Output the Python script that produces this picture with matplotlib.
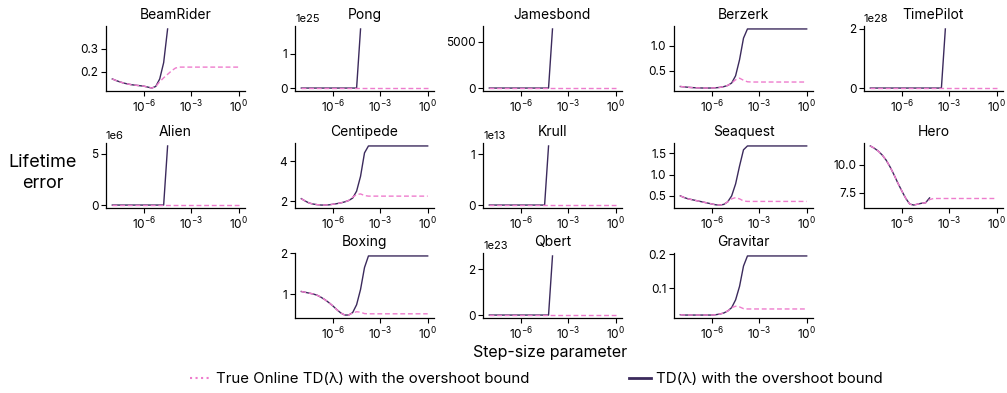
import numpy as np
import matplotlib
matplotlib.use("Agg")
import matplotlib.pyplot as plt
from matplotlib.lines import Line2D
from matplotlib.ticker import NullLocator

plt.rcParams['font.family'] = ['Inter', 'DejaVu Sans']
plt.rcParams['mathtext.fontset'] = 'custom'
plt.rcParams['mathtext.rm'] = 'Inter'
plt.rcParams['mathtext.it'] = 'Inter:italic'
plt.rcParams['mathtext.bf'] = 'Inter:bold'

# step-size grid (log10), shared by every game
log_step_size = [-8.0, -7.75, -7.5, -7.25, -7.0, -6.75, -6.5, -6.25, -6.0, -5.75, -5.5,
                 -5.25, -5.0, -4.75, -4.5, -4.25, -4.0, -3.75, -3.5, -3.25, -3.0, -2.75,
                 -2.5, -2.25, -2.0, -1.75, -1.5, -1.25, -1.0, -0.75, -0.5, -0.25, 0.0]
nan = np.nan

games = ['BeamRider', 'Pong', 'Jamesbond', 'Berzerk', 'TimePilot',
         'Alien', 'Centipede', 'Krull', 'Seaquest', 'Hero',
         'Boxing', 'Qbert', 'Gravitar']

# TD(lambda) with the overshoot bound (nan = run diverged / not shown)
td_beamrider = [0.170, 0.163, 0.157, 0.152, 0.148, 0.145, 0.143, 0.141, 0.139, 0.135, 0.131,
                0.138, 0.170, 0.240, 0.385, nan, nan, nan, nan, nan, nan, nan,
                nan, nan, nan, nan, nan, nan, nan, nan, nan, nan, nan]
td_pong = [0.2, 0.2, 0.2, 0.2, 0.2, 0.2, 0.2, 0.2, 0.2, 0.2, 0.2,
           0.2, 0.2, 0.2, 0.3, 1.72e25, nan, nan, nan, nan, nan, nan,
           nan, nan, nan, nan, nan, nan, nan, nan, nan, nan, nan]
td_jamesbond = [15, 15, 15, 15, 15, 15, 15, 15, 15, 15, 15,
                15, 15, 15, 16, 18, 6350, nan, nan, nan, nan, nan,
                nan, nan, nan, nan, nan, nan, nan, nan, nan, nan, nan]
td_berzerk = [0.186, 0.178, 0.170, 0.164, 0.160, 0.157, 0.155, 0.155, 0.156, 0.160, 0.168,
              0.183, 0.207, 0.255, 0.40, 0.72, 1.15, 1.333, 1.333, 1.333, 1.333, 1.333,
              1.333, 1.333, 1.333, 1.333, 1.333, 1.333, 1.333, 1.333, 1.333, 1.333, 1.333]
td_timepilot = [0.3, 0.3, 0.3, 0.3, 0.3, 0.3, 0.3, 0.3, 0.3, 0.3, 0.3,
                0.3, 0.3, 0.3, 0.3, 0.3, 0.3, 0.3, 0.4, 2.0e28, nan, nan,
                nan, nan, nan, nan, nan, nan, nan, nan, nan, nan, nan]
td_alien = [30, 30, 30, 30, 30, 30, 30, 30, 30, 30, 30,
            30, 30, 35, 5.74e6, nan, nan, nan, nan, nan, nan, nan,
            nan, nan, nan, nan, nan, nan, nan, nan, nan, nan, nan]
td_centipede = [2.12, 2.00, 1.90, 1.85, 1.82, 1.80, 1.80, 1.81, 1.84, 1.87, 1.91,
                1.96, 2.03, 2.15, 2.50, 3.25, 4.43, 4.78, 4.78, 4.78, 4.78, 4.78,
                4.78, 4.78, 4.78, 4.78, 4.78, 4.78, 4.78, 4.78, 4.78, 4.78, 4.78]
td_krull = [5, 5, 5, 5, 5, 5, 5, 5, 5, 5, 5,
            5, 5, 5, 6, 1.16e13, nan, nan, nan, nan, nan, nan,
            nan, nan, nan, nan, nan, nan, nan, nan, nan, nan, nan]
td_seaquest = [0.50, 0.46, 0.43, 0.41, 0.39, 0.37, 0.35, 0.33, 0.31, 0.29, 0.285,
               0.30, 0.36, 0.50, 0.78, 1.20, 1.58, 1.67, 1.67, 1.67, 1.67, 1.67,
               1.67, 1.67, 1.67, 1.67, 1.67, 1.67, 1.67, 1.67, 1.67, 1.67, 1.67]
td_hero = [11.65, 11.45, 11.2, 10.85, 10.4, 9.8, 9.1, 8.35, 7.65, 7.0, 6.5,
           6.42, 6.5, 6.58, 6.62, 7.05, nan, nan, nan, nan, nan, nan,
           nan, nan, nan, nan, nan, nan, nan, nan, nan, nan, nan]
td_boxing = [1.07, 1.05, 1.03, 1.01, 0.98, 0.93, 0.87, 0.80, 0.72, 0.63, 0.55,
             0.50, 0.50, 0.56, 0.75, 1.12, 1.65, 1.93, 1.93, 1.93, 1.93, 1.93,
             1.93, 1.93, 1.93, 1.93, 1.93, 1.93, 1.93, 1.93, 1.93, 1.93, 1.93]
td_qbert = [1, 1, 1, 1, 1, 1, 1, 1, 1, 1, 1,
            1, 1, 1, 1, 2, 2.58e23, nan, nan, nan, nan, nan,
            nan, nan, nan, nan, nan, nan, nan, nan, nan, nan, nan]
td_gravitar = [0.021, 0.020, 0.020, 0.020, 0.020, 0.020, 0.020, 0.020, 0.020, 0.021, 0.023,
               0.026, 0.032, 0.042, 0.065, 0.105, 0.165, 0.195, 0.195, 0.195, 0.195, 0.195,
               0.195, 0.195, 0.195, 0.195, 0.195, 0.195, 0.195, 0.195, 0.195, 0.195, 0.195]

# True Online TD(lambda) with the overshoot bound
toc_beamrider = [0.170, 0.163, 0.157, 0.152, 0.148, 0.145, 0.143, 0.141, 0.139, 0.135, 0.131,
                 0.138, 0.158, 0.175, 0.190, 0.205, 0.217, 0.221, 0.221, 0.221, 0.221, 0.221,
                 0.221, 0.221, 0.221, 0.221, 0.221, 0.221, 0.221, 0.221, 0.221, 0.221, 0.221]
toc_pong = [0.2, 0.2, 0.2, 0.2, 0.2, 0.2, 0.2, 0.2, 0.2, 0.2, 0.2,
            0.2, 0.2, 0.2, 0.2, 0.2, 0.2, 0.2, 0.2, 0.2, 0.2, 0.2,
            0.2, 0.2, 0.2, 0.2, 0.2, 0.2, 0.2, 0.2, 0.2, 0.2, 0.2]
toc_jamesbond = [15, 15, 15, 15, 15, 15, 15, 15, 15, 15, 15,
                 15, 15, 15, 15, 15, 15, 15, 15, 15, 15, 15,
                 15, 15, 15, 15, 15, 15, 15, 15, 15, 15, 15]
toc_berzerk = [0.186, 0.178, 0.170, 0.164, 0.160, 0.157, 0.155, 0.155, 0.156, 0.160, 0.168,
               0.183, 0.207, 0.255, 0.320, 0.352, 0.310, 0.280, 0.275, 0.275, 0.275, 0.275,
               0.275, 0.275, 0.275, 0.275, 0.275, 0.275, 0.275, 0.275, 0.275, 0.275, 0.275]
toc_timepilot = [0.3, 0.3, 0.3, 0.3, 0.3, 0.3, 0.3, 0.3, 0.3, 0.3, 0.3,
                 0.3, 0.3, 0.3, 0.3, 0.3, 0.3, 0.3, 0.3, 0.3, 0.3, 0.3,
                 0.3, 0.3, 0.3, 0.3, 0.3, 0.3, 0.3, 0.3, 0.3, 0.3, 0.3]
toc_alien = [30, 30, 30, 30, 30, 30, 30, 30, 30, 30, 30,
             30, 30, 30, 30, 30, 30, 30, 30, 30, 30, 30,
             30, 30, 30, 30, 30, 30, 30, 30, 30, 30, 30]
toc_centipede = [2.12, 2.00, 1.90, 1.85, 1.82, 1.80, 1.80, 1.81, 1.84, 1.87, 1.91,
                 1.96, 2.03, 2.20, 2.33, 2.36, 2.28, 2.25, 2.25, 2.25, 2.25, 2.25,
                 2.25, 2.25, 2.25, 2.25, 2.25, 2.25, 2.25, 2.25, 2.25, 2.25, 2.25]
toc_krull = [5, 5, 5, 5, 5, 5, 5, 5, 5, 5, 5,
             5, 5, 5, 5, 5, 5, 5, 5, 5, 5, 5,
             5, 5, 5, 5, 5, 5, 5, 5, 5, 5, 5]
toc_seaquest = [0.50, 0.46, 0.43, 0.41, 0.39, 0.37, 0.35, 0.33, 0.31, 0.29, 0.285,
                0.30, 0.36, 0.43, 0.46, 0.43, 0.38, 0.37, 0.37, 0.37, 0.37, 0.37,
                0.37, 0.37, 0.37, 0.37, 0.37, 0.37, 0.37, 0.37, 0.37, 0.37, 0.37]
toc_hero = [11.65, 11.45, 11.2, 10.85, 10.4, 9.8, 9.1, 8.35, 7.65, 7.0, 6.5,
            6.42, 6.5, 6.58, 6.62, 6.9, 7.0, 7.0, 7.0, 7.0, 7.0, 7.0,
            7.0, 7.0, 7.0, 7.0, 7.0, 7.0, 7.0, 7.0, 7.0, 7.0, 7.0]
toc_boxing = [1.07, 1.05, 1.03, 1.01, 0.98, 0.93, 0.87, 0.80, 0.72, 0.63, 0.55,
              0.50, 0.50, 0.55, 0.58, 0.57, 0.535, 0.53, 0.53, 0.53, 0.53, 0.53,
              0.53, 0.53, 0.53, 0.53, 0.53, 0.53, 0.53, 0.53, 0.53, 0.53, 0.53]
toc_qbert = [1, 1, 1, 1, 1, 1, 1, 1, 1, 1, 1,
             1, 1, 1, 1, 1, 1, 1, 1, 1, 1, 1,
             1, 1, 1, 1, 1, 1, 1, 1, 1, 1, 1]
toc_gravitar = [0.021, 0.020, 0.020, 0.020, 0.020, 0.020, 0.020, 0.020, 0.020, 0.021, 0.023,
                0.026, 0.032, 0.042, 0.046, 0.044, 0.039, 0.038, 0.038, 0.038, 0.038, 0.038,
                0.038, 0.038, 0.038, 0.038, 0.038, 0.038, 0.038, 0.038, 0.038, 0.038, 0.038]

y_ticks = {
    'BeamRider': [0.2, 0.3], 'Pong': [0, 1e25], 'Jamesbond': [0, 5000],
    'Berzerk': [0.5, 1.0], 'TimePilot': [0, 2e28], 'Alien': [0, 5e6],
    'Centipede': [2, 4], 'Krull': [0, 1e13], 'Seaquest': [0.5, 1.0, 1.5],
    'Hero': [7.5, 10.0], 'Boxing': [1, 2], 'Qbert': [0, 2e23], 'Gravitar': [0.1, 0.2],
}

td_curves = [td_beamrider, td_pong, td_jamesbond, td_berzerk, td_timepilot,
             td_alien, td_centipede, td_krull, td_seaquest, td_hero,
             td_boxing, td_qbert, td_gravitar]
toc_curves = [toc_beamrider, toc_pong, toc_jamesbond, toc_berzerk, toc_timepilot,
              toc_alien, toc_centipede, toc_krull, toc_seaquest, toc_hero,
              toc_boxing, toc_qbert, toc_gravitar]

# (row, col) of each panel in the 3x5 grid
grid_pos = [(0, 0), (0, 1), (0, 2), (0, 3), (0, 4),
            (1, 0), (1, 1), (1, 2), (1, 3), (1, 4),
            (2, 1), (2, 2), (2, 3)]

TD_COLOR = '#3b2a5c'
TOC_COLOR = '#ee7ccd'

W, H = 1007, 393
col_left = [106, 295, 483, 674, 864]
row_top = [26, 143, 253]
ax_w, ax_h = 139, 65

fig = plt.figure(figsize=(W / 100, H / 100), dpi=100)
step_sizes = 10.0 ** np.array(log_step_size)

for name, td, toc, (r, c) in zip(games, td_curves, toc_curves, grid_pos):
    ax = fig.add_axes([col_left[c] / W, 1 - (row_top[r] + ax_h) / H, ax_w / W, ax_h / H])
    ax.plot(step_sizes, td, color=TD_COLOR, lw=1.0)
    ax.plot(step_sizes, toc, color=TOC_COLOR, lw=1.0, ls=(0, (3.5, 2)))
    ax.set_xscale('log')
    ax.set_xticks([1e-6, 1e-3, 1])
    ax.xaxis.set_minor_locator(NullLocator())
    ax.set_yticks(y_ticks[name])
    ax.set_title(name, fontsize=10, pad=5)
    ax.tick_params(labelsize=8.5, length=3.5, width=0.8, pad=2)
    ax.yaxis.get_offset_text().set_fontsize(8)
    for side in ['top', 'right']:
        ax.spines[side].set_visible(False)
    for side in ['left', 'bottom']:
        ax.spines[side].set_linewidth(0.9)

fig.text(43 / W, 1 - 173 / H, 'Lifetime\nerror', ha='center', va='center',
         fontsize=13, linespacing=1.25)
fig.text(550 / W, 1 - 353 / H, 'Step-size parameter', ha='center', va='center', fontsize=11.5)

handles = [Line2D([], [], color=TOC_COLOR, ls=':', lw=1.5),
           Line2D([], [], color=TD_COLOR, lw=2.0)]
labels = ['True Online TD(λ) with the overshoot bound', 'TD(λ) with the overshoot bound']
fig.legend(handles, labels, loc='center', bbox_to_anchor=(536 / W, 1 - 379 / H), ncol=2,
           frameon=False, fontsize=10.8, handlelength=1.5, handletextpad=0.3,
           columnspacing=6.6)

fig.savefig('out.png', dpi=100)
